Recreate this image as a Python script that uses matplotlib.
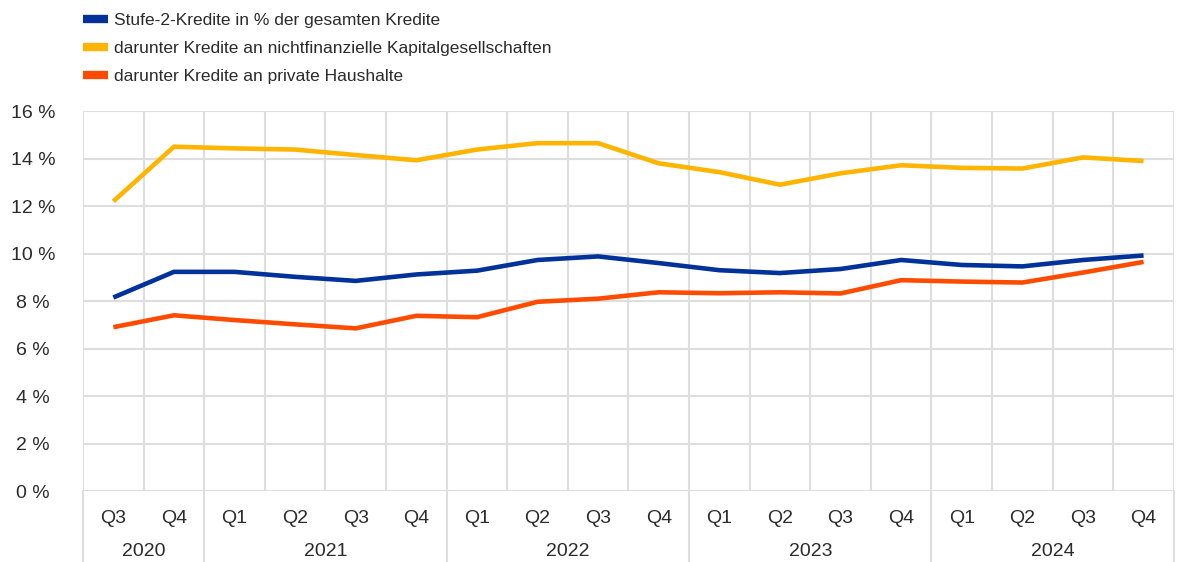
import matplotlib
matplotlib.use('Agg')
import matplotlib.pyplot as plt
import numpy as np

plt.rcParams['font.family'] = ['Liberation Sans', 'DejaVu Sans']

quarters = ['Q3', 'Q4', 'Q1', 'Q2', 'Q3', 'Q4', 'Q1', 'Q2', 'Q3', 'Q4',
            'Q1', 'Q2', 'Q3', 'Q4', 'Q1', 'Q2', 'Q3', 'Q4']
years = ['2020', '2021', '2022', '2023', '2024']
quarters_per_year = [2, 4, 4, 4, 4]

stage2_total = [8.15, 9.23, 9.23, 9.02, 8.85, 9.12, 9.28, 9.73, 9.88, 9.60,
                9.30, 9.18, 9.35, 9.73, 9.52, 9.46, 9.73, 9.92]
stage2_nfc = [12.20, 14.50, 14.43, 14.38, 14.15, 13.93, 14.38, 14.65, 14.65, 13.80,
              13.43, 12.90, 13.38, 13.72, 13.61, 13.58, 14.05, 13.90]
stage2_households = [6.90, 7.40, 7.20, 7.02, 6.85, 7.38, 7.32, 7.97, 8.10, 8.37,
                     8.33, 8.37, 8.32, 8.88, 8.82, 8.78, 9.20, 9.65]

labels = ['Stufe-2-Kredite in % der gesamten Kredite',
          'darunter Kredite an nichtfinanzielle Kapitalgesellschaften',
          'darunter Kredite an private Haushalte']
colors = ['#003299', '#FFB400', '#FF4B00']
yticks = [0, 2, 4, 6, 8, 10, 12, 14, 16]

fig = plt.figure(figsize=(11.78, 5.62), dpi=100)
ax = fig.add_axes([0.0705, 0.1263, 0.926, 0.676])

x = np.arange(len(quarters))
series = [stage2_total, stage2_nfc, stage2_households]
for vals, c, lab in zip(series, colors, labels):
    ax.plot(x, vals, color=c, lw=3.3, label=lab, solid_capstyle='butt', zorder=3)

ax.set_xlim(-0.5, len(quarters) - 0.5)
ax.set_ylim(0, 16)

grid_c = '#dedede'
txt_c = '#2b2b2b'
ax.set_yticks(yticks)
ax.set_yticklabels([f'{v} %' for v in yticks], ha='center')
ax.tick_params(axis='y', length=0, pad=36, labelsize=14, labelcolor=txt_c)
ax.yaxis.grid(True, color=grid_c, lw=1.5)

# quarter boundaries as vertical gridlines
ax.set_xticks(np.arange(-0.5, len(quarters), 1.0), minor=True)
ax.xaxis.grid(True, which='minor', color=grid_c, lw=1.5)
ax.set_xticks(x)
ax.set_xticklabels(quarters)
ax.tick_params(axis='x', which='both', length=0, pad=14, labelsize=14, labelcolor=txt_c)
ax.set_axisbelow(True)
for s in ax.spines.values():
    s.set_visible(False)

# year separators and labels below the axis
trans = ax.get_xaxis_transform()
bounds = np.concatenate([[0], np.cumsum(quarters_per_year)]) - 0.5
for b in bounds:
    ax.plot([b, b], [0, -0.2], transform=trans, color=grid_c, lw=1.5, clip_on=False)
for i, yr in enumerate(years):
    mid = (bounds[i] + bounds[i + 1]) / 2
    ax.text(mid, -0.16, yr, transform=trans, ha='center', va='center',
            fontsize=14, color=txt_c)

leg = ax.legend(loc='upper left', bbox_to_anchor=(0.0605, 0.998), bbox_transform=fig.transFigure,
                frameon=False, fontsize=12.5, handlelength=1.4, handletextpad=0.35,
                labelspacing=0.74, borderaxespad=0.3)
for h in leg.get_lines():
    h.set_linewidth(6)
for t in leg.get_texts():
    t.set_color(txt_c)

fig.savefig('out.png', dpi=100)
